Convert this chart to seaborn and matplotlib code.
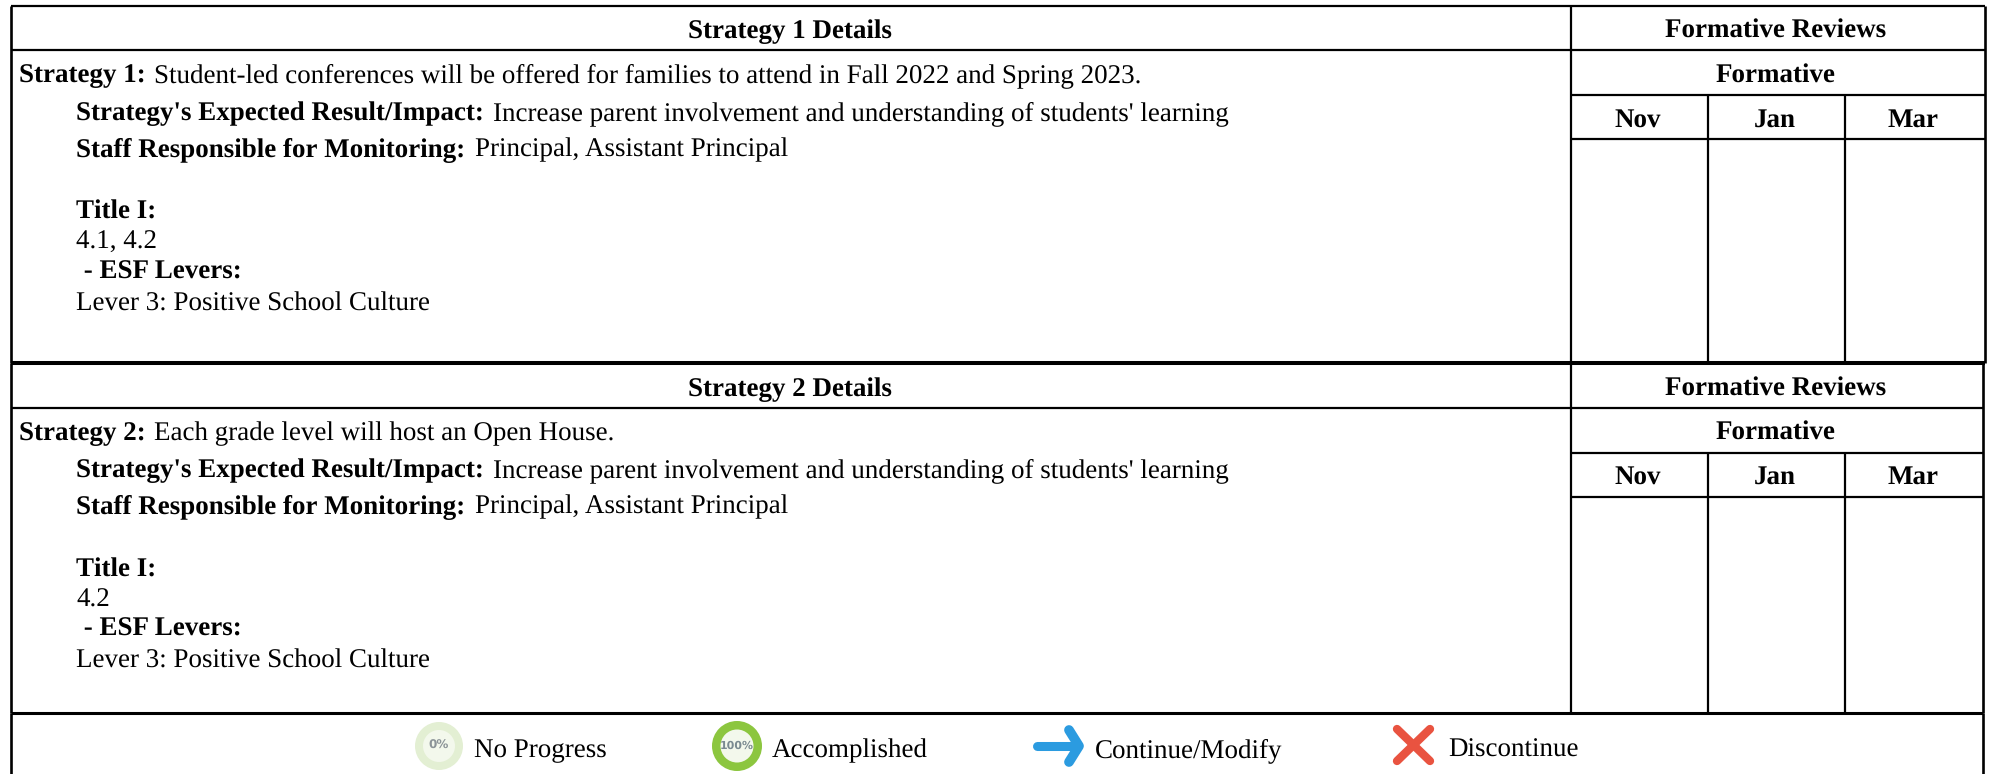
import matplotlib
matplotlib.use("Agg")
import matplotlib.pyplot as plt
from matplotlib.patches import Circle
import seaborn as sns

# -------------------------
# Table content
# -------------------------
strategy_names = ["Strategy 1", "Strategy 2"]
strategy_texts = [
    "Student-led conferences will be offered for families to attend in Fall 2022 and Spring 2023.",
    "Each grade level will host an Open House.",
]
impact_text = "Increase parent involvement and understanding of students' learning"
staff_text = "Principal, Assistant Principal"
title_values = ["4.1, 4.2", "4.2"]
lever_text = "Lever 3: Positive School Culture"
months = ["Nov", "Jan", "Mar"]
legend_labels = ["No Progress", "Accomplished", "Continue/Modify", "Discontinue"]

sns.set_theme(style="white")
plt.rcParams["font.family"] = ["Liberation Serif", "DejaVu Serif"]
plt.rcParams["text.color"] = "black"
plt.rcParams["text.hinting"] = "no_hinting"
plt.rcParams["text.hinting_factor"] = 1

fig = plt.figure(figsize=(19.9, 7.74), dpi=100)
ax = fig.add_axes([0, 0, 1, 1])
ax.set_xlim(0, 1990)
ax.set_ylim(774, 0)
ax.axis("off")

FS = 19.5
LW = 1.6
renderer = fig.canvas.get_renderer()


def label(x, y, bold, plain="", gap=9.5):
    # bold run first, plain run straight after it
    t = ax.text(x, y, bold, fontsize=FS, fontweight="bold", va="baseline")
    if plain:
        box = t.get_window_extent(renderer)
        ax.text(box.x1 + gap, y, plain, fontsize=FS, va="baseline")


def grid_block(top, head, form, month, bottom, right):
    ax.hlines([head], 11, right, color="black", lw=LW)
    ax.vlines(1571, top, bottom, color="black", lw=LW)
    ax.hlines([form, month], 1571, right, color="black", lw=LW)
    ax.vlines([1708, 1845], form, bottom, color="black", lw=LW)
    ax.vlines([11], top, bottom, color="black", lw=LW + 0.3)
    ax.vlines([right], top, bottom, color="black", lw=LW + 0.3)


# -------------------------
# Grid
# -------------------------
ax.hlines(6, 11, 1985, color="black", lw=LW)
grid_block(6, 50, 95, 139, 363, 1985)
grid_block(363, 408, 453, 497, 713, 1983)
ax.hlines(363, 11, 1985, color="black", lw=2.9)
ax.hlines(713, 11, 1983, color="black", lw=2.2)
ax.vlines(11, 713, 774, color="black", lw=LW + 0.3)
ax.vlines(1983, 713, 774, color="black", lw=LW + 0.3)

# -------------------------
# Strategy blocks
# -------------------------
offsets = [0, 358]
sub_offsets = [0, 357]
for i, dy in enumerate(offsets):
    dy2 = sub_offsets[i]
    ax.text(790, 38 + dy, strategy_names[i] + " Details", fontsize=FS, fontweight="bold",
            ha="center", va="baseline")
    ax.text(1776, 38 + dy, "Formative Reviews", fontsize=FS, fontweight="bold",
            ha="center", va="baseline")
    ax.text(1776, 83 + dy2, "Formative", fontsize=FS, fontweight="bold",
            ha="center", va="baseline")
    for xc, m in zip([1638, 1775, 1913], months):
        ax.text(xc, 127 + dy2, m, fontsize=FS, fontweight="bold", ha="center", va="baseline")

    label(19, 82 + dy, strategy_names[i] + ":", strategy_texts[i], gap=8)
    label(76, 120 + dy2, "Strategy's Expected Result/Impact:", impact_text)
    label(76, 156 + dy2, "Staff Responsible for Monitoring:", staff_text)
    label(76, 219 + dy, "Title I:")
    ax.text(76, 249 + dy, title_values[i], fontsize=FS, va="baseline")
    label(77, 279 + dy - i, " - ESF Levers:")
    ax.text(76, 311 + dy - i, lever_text, fontsize=FS, va="baseline")

# -------------------------
# Legend
# -------------------------
ax.add_patch(Circle((439, 746), 24, fc="#e3efd3", ec="none"))
ax.add_patch(Circle((439, 746), 16, fc="#f3f8ec", ec="none"))
ax.text(439, 746, "0%", fontsize=8.5, color="#8c9498", ha="center", va="center",
        family="DejaVu Sans", fontweight="bold")
ax.add_patch(Circle((737, 746), 25, fc="#8cc63f", ec="none"))
ax.add_patch(Circle((737, 746), 16.5, fc="#f3f8ec", ec="none"))
ax.text(737, 746, "100%", fontsize=8, color="#7a8a90", ha="center", va="center",
        family="DejaVu Sans", fontweight="bold")
ax.plot([1037, 1078], [746, 746], color="#2b9be0", lw=6.5, solid_capstyle="round")
ax.plot([1069, 1079, 1069], [730, 746, 762], color="#2b9be0", lw=7, solid_capstyle="round",
        solid_joinstyle="round")
ax.plot([1397, 1430], [729, 761], color="#e95340", lw=6, solid_capstyle="round")
ax.plot([1430, 1397], [729, 761], color="#e95340", lw=6, solid_capstyle="round")

for xs, text in zip([474, 772, 1095, 1448], legend_labels):
    ax.text(xs, 757, text, fontsize=FS, va="baseline")

fig.savefig("out.png", dpi=100, facecolor="white")
